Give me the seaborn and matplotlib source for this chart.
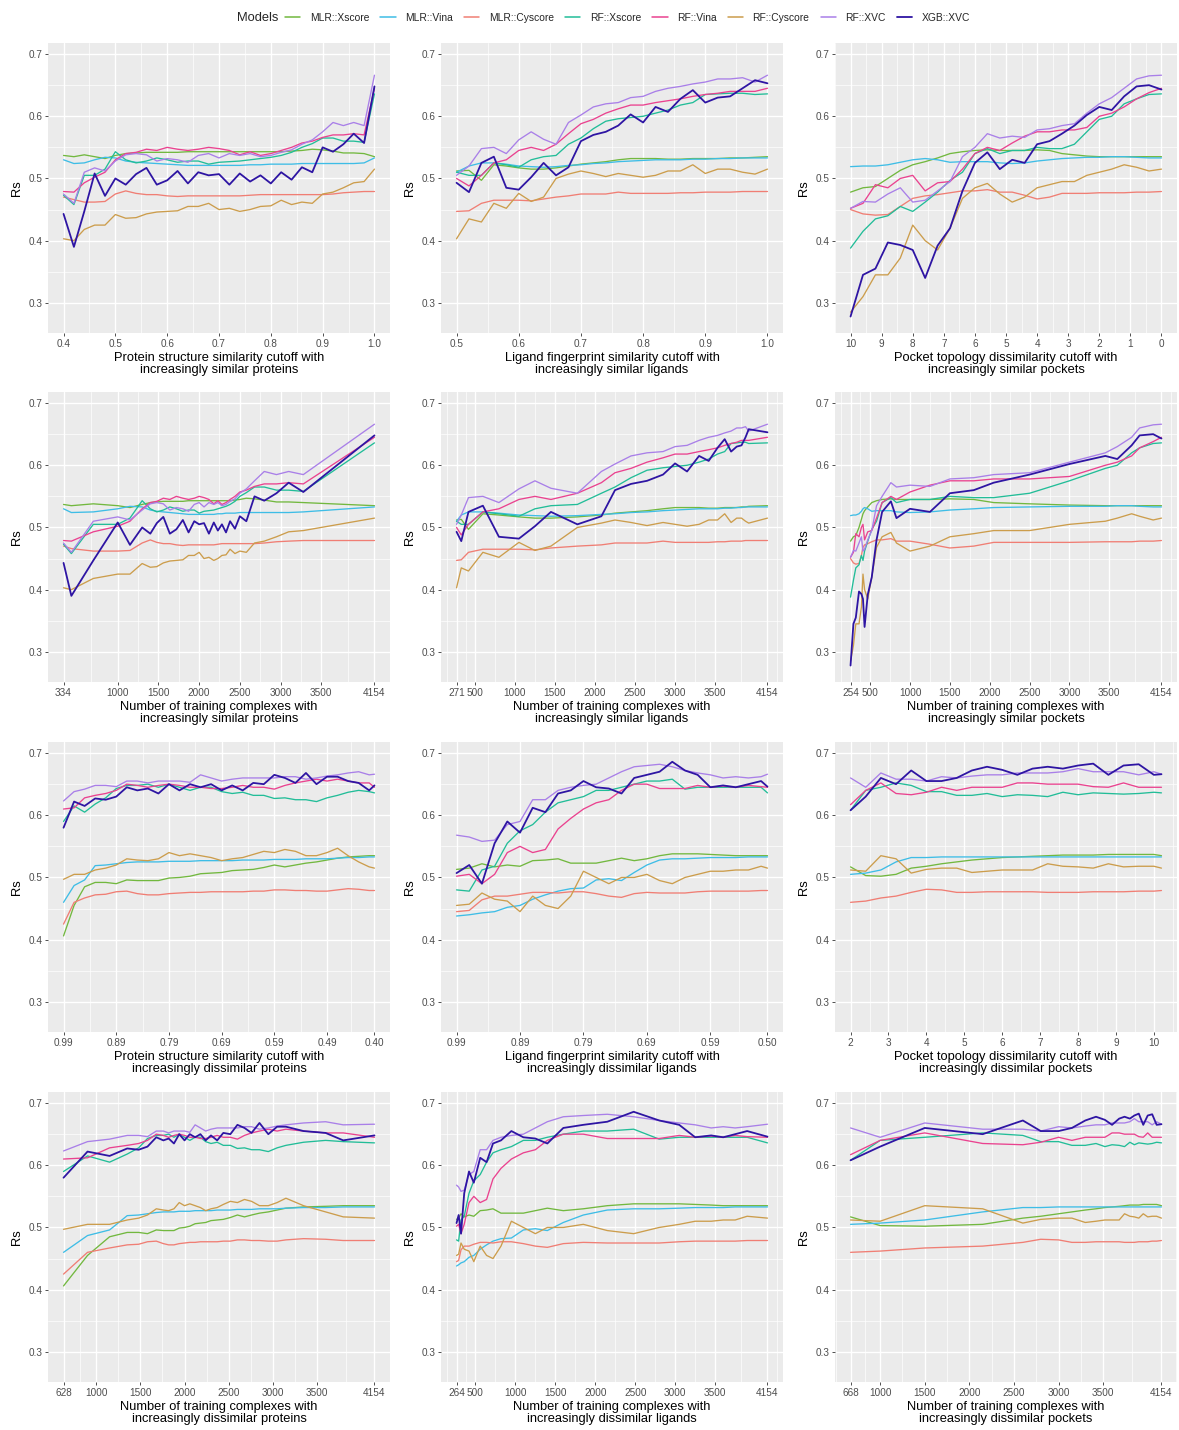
import numpy as np
import pandas as pd
import matplotlib
matplotlib.use("Agg")
import matplotlib.pyplot as plt
import seaborn as sns
from matplotlib.lines import Line2D

# ---------------- data ----------------
models = ["MLR::Xscore", "MLR::Vina", "MLR::Cyscore", "RF::Xscore",
          "RF::Vina", "RF::Cyscore", "RF::XVC", "XGB::XVC"]
colors = ["#72B83F", "#3EBDE6", "#F07E74", "#22BD98",
          "#EA428F", "#CC9D4C", "#A97FE8", "#2E15A3"]

# protein structure similarity cutoff, increasingly similar proteins
ps_cut = np.round(np.arange(0.40, 1.0001, 0.02), 2)
ps_n = [334, 430, 700, 1000, 1150, 1300, 1400, 1480, 1560, 1640, 1720, 1800, 1870, 1940, 2000, 2060,
        2120, 2180, 2230, 2280, 2330, 2380, 2440, 2500, 2580, 2680, 2800, 2950, 3100, 3280, 4154]
ps_mlr_xscore = [0.537, 0.535, 0.538, 0.535, 0.532, 0.537, 0.540, 0.541, 0.542, 0.542, 0.542, 0.542, 0.543, 0.543, 0.543, 0.543,
                 0.543, 0.543, 0.543, 0.543, 0.543, 0.543, 0.544, 0.545, 0.547, 0.546, 0.544, 0.541, 0.541, 0.540, 0.535]
ps_mlr_vina = [0.530, 0.524, 0.525, 0.530, 0.534, 0.533, 0.528, 0.526, 0.525, 0.524, 0.523, 0.522, 0.521, 0.521, 0.521, 0.521,
               0.521, 0.521, 0.522, 0.522, 0.523, 0.523, 0.523, 0.524, 0.524, 0.524, 0.524, 0.524, 0.524, 0.525, 0.533]
ps_mlr_cyscore = [0.470, 0.466, 0.462, 0.462, 0.463, 0.475, 0.480, 0.476, 0.474, 0.474, 0.472, 0.471, 0.472, 0.472, 0.472, 0.472,
                  0.472, 0.472, 0.473, 0.474, 0.474, 0.474, 0.474, 0.474, 0.474, 0.474, 0.475, 0.477, 0.478, 0.479, 0.479]
ps_rf_xscore = [0.473, 0.458, 0.505, 0.505, 0.515, 0.543, 0.530, 0.525, 0.528, 0.533, 0.530, 0.526, 0.528, 0.528, 0.523, 0.526,
                0.527, 0.528, 0.530, 0.532, 0.534, 0.537, 0.542, 0.550, 0.556, 0.565, 0.565, 0.560, 0.560, 0.558, 0.636]
ps_rf_vina = [0.479, 0.478, 0.493, 0.502, 0.510, 0.530, 0.540, 0.542, 0.547, 0.545, 0.550, 0.547, 0.545, 0.547, 0.550, 0.548,
              0.545, 0.538, 0.543, 0.537, 0.540, 0.545, 0.550, 0.557, 0.560, 0.566, 0.570, 0.570, 0.572, 0.570, 0.645]
ps_rf_cyscore = [0.403, 0.400, 0.418, 0.425, 0.425, 0.442, 0.436, 0.437, 0.443, 0.446, 0.447, 0.448, 0.455, 0.455, 0.460, 0.450,
                 0.452, 0.447, 0.450, 0.455, 0.456, 0.465, 0.458, 0.462, 0.460, 0.475, 0.478, 0.485, 0.493, 0.495, 0.515]
ps_rf_xvc = [0.475, 0.460, 0.510, 0.517, 0.512, 0.528, 0.538, 0.540, 0.538, 0.528, 0.532, 0.530, 0.526, 0.537, 0.540, 0.533,
             0.540, 0.537, 0.540, 0.535, 0.537, 0.542, 0.546, 0.555, 0.562, 0.575, 0.590, 0.585, 0.590, 0.585, 0.666]
ps_xgb_xvc = [0.443, 0.390, 0.447, 0.508, 0.472, 0.500, 0.490, 0.507, 0.517, 0.490, 0.497, 0.512, 0.492, 0.510, 0.505, 0.507,
              0.490, 0.508, 0.495, 0.505, 0.492, 0.510, 0.498, 0.518, 0.510, 0.550, 0.543, 0.555, 0.572, 0.557, 0.648]

# ligand fingerprint similarity cutoff, increasingly similar ligands
ls_cut = np.round(np.arange(0.50, 1.0001, 0.02), 2)
ls_n = [271, 330, 420, 600, 800, 1050, 1250, 1450, 1780, 2080, 2250, 2450, 2650, 2850, 3000, 3150,
        3300, 3420, 3530, 3620, 3700, 3770, 3830, 3880, 3920, 4154]
ls_mlr_xscore = [0.512, 0.513, 0.497, 0.522, 0.520, 0.517, 0.515, 0.515, 0.517, 0.520, 0.523, 0.525, 0.527,
                 0.530, 0.532, 0.532, 0.532, 0.531, 0.531, 0.532, 0.532, 0.532, 0.533, 0.533, 0.534, 0.535]
ls_mlr_vina = [0.510, 0.520, 0.525, 0.525, 0.523, 0.520, 0.519, 0.518, 0.519, 0.521, 0.522, 0.524, 0.525,
               0.527, 0.528, 0.529, 0.530, 0.530, 0.530, 0.531, 0.531, 0.532, 0.532, 0.533, 0.533, 0.533]
ls_mlr_cyscore = [0.447, 0.448, 0.460, 0.465, 0.465, 0.465, 0.464, 0.467, 0.470, 0.472, 0.475, 0.475, 0.475,
                  0.478, 0.476, 0.476, 0.476, 0.476, 0.477, 0.477, 0.478, 0.478, 0.478, 0.479, 0.479, 0.479]
ls_rf_xscore = [0.510, 0.505, 0.505, 0.525, 0.522, 0.518, 0.530, 0.535, 0.537, 0.555, 0.565, 0.580, 0.592,
                0.596, 0.598, 0.600, 0.605, 0.610, 0.618, 0.622, 0.635, 0.636, 0.637, 0.637, 0.635, 0.636]
ls_rf_vina = [0.500, 0.488, 0.505, 0.525, 0.530, 0.545, 0.550, 0.545, 0.555, 0.572, 0.588, 0.595, 0.605,
              0.612, 0.618, 0.618, 0.622, 0.625, 0.628, 0.632, 0.635, 0.637, 0.640, 0.640, 0.640, 0.645]
ls_rf_cyscore = [0.403, 0.435, 0.430, 0.460, 0.452, 0.476, 0.463, 0.470, 0.500, 0.507, 0.512, 0.508, 0.503,
                 0.508, 0.505, 0.502, 0.505, 0.512, 0.512, 0.522, 0.508, 0.515, 0.515, 0.510, 0.507, 0.515]
ls_rf_xvc = [0.505, 0.520, 0.548, 0.550, 0.540, 0.562, 0.575, 0.563, 0.555, 0.590, 0.602, 0.615, 0.620,
             0.622, 0.630, 0.632, 0.640, 0.645, 0.648, 0.652, 0.655, 0.660, 0.660, 0.662, 0.655, 0.666]
ls_xgb_xvc = [0.493, 0.478, 0.525, 0.535, 0.485, 0.482, 0.502, 0.525, 0.505, 0.518, 0.560, 0.570, 0.575,
              0.585, 0.603, 0.590, 0.615, 0.607, 0.628, 0.642, 0.622, 0.630, 0.632, 0.645, 0.658, 0.653]

# pocket topology dissimilarity cutoff, increasingly similar pockets
ks_cut = np.round(np.arange(10.0, -0.0001, -0.4), 1)
ks_n = [254, 290, 320, 360, 390, 410, 430, 470, 520, 580, 650, 760, 830, 1000, 1250, 1500,
        1800, 2050, 2500, 3000, 3450, 3600, 3780, 3880, 4050, 4154]
ks_mlr_xscore = [0.478, 0.485, 0.487, 0.500, 0.513, 0.522, 0.527, 0.533, 0.540, 0.543, 0.545, 0.546, 0.545,
                 0.545, 0.545, 0.546, 0.545, 0.540, 0.538, 0.536, 0.535, 0.535, 0.535, 0.535, 0.535, 0.535]
ks_mlr_vina = [0.519, 0.520, 0.520, 0.522, 0.526, 0.530, 0.532, 0.530, 0.526, 0.527, 0.527, 0.527, 0.525,
               0.524, 0.525, 0.528, 0.530, 0.532, 0.533, 0.534, 0.534, 0.535, 0.535, 0.534, 0.533, 0.533]
ks_mlr_cyscore = [0.450, 0.443, 0.441, 0.442, 0.455, 0.468, 0.472, 0.474, 0.477, 0.480, 0.480, 0.482, 0.478,
                  0.478, 0.473, 0.467, 0.470, 0.476, 0.476, 0.476, 0.477, 0.477, 0.477, 0.478, 0.478, 0.479]
ks_rf_xscore = [0.388, 0.415, 0.435, 0.440, 0.455, 0.447, 0.462, 0.478, 0.497, 0.510, 0.540, 0.548, 0.540,
                0.545, 0.545, 0.550, 0.548, 0.548, 0.555, 0.575, 0.595, 0.600, 0.620, 0.628, 0.635, 0.636]
ks_rf_vina = [0.452, 0.460, 0.490, 0.485, 0.500, 0.505, 0.480, 0.493, 0.495, 0.515, 0.540, 0.550, 0.545,
              0.557, 0.568, 0.575, 0.575, 0.578, 0.578, 0.582, 0.600, 0.605, 0.615, 0.628, 0.638, 0.645]
ks_rf_cyscore = [0.285, 0.310, 0.345, 0.345, 0.372, 0.425, 0.400, 0.385, 0.420, 0.468, 0.485, 0.492, 0.475,
                 0.462, 0.470, 0.485, 0.490, 0.495, 0.495, 0.505, 0.510, 0.515, 0.522, 0.518, 0.512, 0.515]
ks_rf_xvc = [0.452, 0.463, 0.462, 0.475, 0.485, 0.462, 0.465, 0.480, 0.495, 0.535, 0.550, 0.572, 0.565,
             0.568, 0.566, 0.578, 0.580, 0.585, 0.588, 0.605, 0.620, 0.630, 0.645, 0.660, 0.665, 0.666]
ks_xgb_xvc = [0.278, 0.345, 0.355, 0.397, 0.393, 0.385, 0.340, 0.392, 0.420, 0.480, 0.525, 0.542, 0.515,
              0.530, 0.525, 0.555, 0.560, 0.572, 0.585, 0.602, 0.615, 0.610, 0.632, 0.648, 0.650, 0.643]

# protein structure similarity cutoff, increasingly dissimilar proteins
pd_cut = np.append(np.round(np.arange(0.99, 0.405, -0.02), 2), 0.40)
pd_n = [628, 900, 1150, 1350, 1480, 1580, 1680, 1760, 1820, 1880, 1940, 2000, 2060, 2120, 2180, 2240,
        2300, 2370, 2440, 2520, 2600, 2680, 2760, 2850, 2950, 3050, 3150, 3350, 3600, 3800, 4154]
pd_mlr_xscore = [0.406, 0.455, 0.485, 0.492, 0.492, 0.490, 0.496, 0.495, 0.495, 0.495, 0.499, 0.500, 0.502, 0.506, 0.507, 0.508,
                 0.511, 0.512, 0.513, 0.516, 0.520, 0.517, 0.520, 0.523, 0.525, 0.528, 0.531, 0.533, 0.534, 0.535, 0.535]
pd_mlr_vina = [0.460, 0.487, 0.496, 0.519, 0.520, 0.522, 0.524, 0.525, 0.525, 0.525, 0.526, 0.526, 0.526, 0.527, 0.527, 0.527,
               0.527, 0.528, 0.528, 0.528, 0.529, 0.529, 0.529, 0.530, 0.530, 0.530, 0.531, 0.532, 0.532, 0.533, 0.533]
pd_mlr_cyscore = [0.425, 0.460, 0.467, 0.472, 0.473, 0.477, 0.478, 0.474, 0.472, 0.472, 0.474, 0.475, 0.476, 0.476, 0.477, 0.477,
                  0.477, 0.477, 0.478, 0.478, 0.480, 0.480, 0.479, 0.479, 0.478, 0.478, 0.480, 0.482, 0.481, 0.479, 0.479]
pd_rf_xscore = [0.590, 0.615, 0.605, 0.618, 0.628, 0.643, 0.648, 0.648, 0.650, 0.645, 0.650, 0.645, 0.640, 0.645, 0.645, 0.638,
                0.635, 0.637, 0.632, 0.632, 0.627, 0.628, 0.625, 0.625, 0.622, 0.628, 0.632, 0.637, 0.640, 0.638, 0.636]
pd_rf_vina = [0.610, 0.612, 0.628, 0.632, 0.635, 0.640, 0.650, 0.648, 0.645, 0.648, 0.650, 0.648, 0.645, 0.645, 0.643, 0.643,
              0.645, 0.648, 0.645, 0.645, 0.642, 0.648, 0.652, 0.655, 0.658, 0.655, 0.658, 0.655, 0.652, 0.652, 0.645]
pd_rf_cyscore = [0.497, 0.505, 0.505, 0.512, 0.515, 0.520, 0.530, 0.528, 0.527, 0.530, 0.540, 0.535, 0.538, 0.535, 0.532, 0.527,
                 0.530, 0.532, 0.537, 0.542, 0.540, 0.545, 0.542, 0.535, 0.535, 0.540, 0.547, 0.535, 0.525, 0.517, 0.515]
pd_rf_xvc = [0.623, 0.638, 0.642, 0.648, 0.648, 0.646, 0.655, 0.655, 0.652, 0.655, 0.655, 0.655, 0.653, 0.665, 0.660, 0.655,
             0.658, 0.660, 0.660, 0.660, 0.660, 0.662, 0.662, 0.658, 0.660, 0.663, 0.665, 0.668, 0.670, 0.665, 0.666]
pd_xgb_xvc = [0.580, 0.622, 0.615, 0.627, 0.625, 0.630, 0.645, 0.640, 0.643, 0.635, 0.650, 0.640, 0.650, 0.645, 0.650, 0.640,
              0.648, 0.640, 0.652, 0.650, 0.665, 0.660, 0.652, 0.668, 0.650, 0.662, 0.662, 0.655, 0.652, 0.640, 0.648]

# ligand fingerprint similarity cutoff, increasingly dissimilar ligands
ld_cut = np.append(np.round(np.arange(0.99, 0.505, -0.02), 2), 0.50)
ld_n = [264, 290, 320, 360, 420, 480, 560, 640, 720, 820, 950, 1100, 1250, 1400, 1600, 1850,
        2150, 2480, 2800, 3050, 3250, 3450, 3600, 3750, 3900, 4154]
ld_mlr_xscore = [0.513, 0.515, 0.522, 0.517, 0.520, 0.518, 0.527, 0.528, 0.530, 0.523, 0.523, 0.523, 0.527,
                 0.531, 0.527, 0.530, 0.535, 0.538, 0.538, 0.538, 0.537, 0.536, 0.535, 0.535, 0.535, 0.535]
ld_mlr_vina = [0.438, 0.440, 0.443, 0.445, 0.452, 0.455, 0.465, 0.472, 0.478, 0.482, 0.483, 0.496, 0.498,
               0.495, 0.508, 0.520, 0.528, 0.530, 0.530, 0.531, 0.532, 0.532, 0.532, 0.533, 0.533, 0.533]
ld_mlr_cyscore = [0.445, 0.447, 0.464, 0.470, 0.470, 0.473, 0.476, 0.476, 0.475, 0.477, 0.477, 0.474, 0.470,
                  0.468, 0.474, 0.476, 0.475, 0.475, 0.475, 0.477, 0.478, 0.478, 0.478, 0.478, 0.479, 0.479]
ld_rf_xscore = [0.480, 0.478, 0.512, 0.518, 0.555, 0.575, 0.585, 0.605, 0.620, 0.625, 0.630, 0.640, 0.640,
                0.645, 0.650, 0.655, 0.655, 0.658, 0.642, 0.645, 0.645, 0.645, 0.645, 0.645, 0.645, 0.636]
ld_rf_vina = [0.502, 0.505, 0.490, 0.505, 0.540, 0.550, 0.540, 0.545, 0.578, 0.595, 0.610, 0.620, 0.625,
              0.640, 0.650, 0.650, 0.643, 0.643, 0.643, 0.648, 0.645, 0.647, 0.645, 0.648, 0.646, 0.645]
ld_rf_cyscore = [0.455, 0.457, 0.475, 0.465, 0.462, 0.445, 0.470, 0.455, 0.450, 0.470, 0.510, 0.500, 0.490,
                 0.500, 0.500, 0.505, 0.495, 0.490, 0.500, 0.505, 0.510, 0.510, 0.512, 0.512, 0.518, 0.515]
ld_rf_xvc = [0.568, 0.565, 0.558, 0.560, 0.585, 0.590, 0.625, 0.625, 0.640, 0.645, 0.648, 0.650, 0.660,
             0.670, 0.678, 0.680, 0.682, 0.678, 0.672, 0.668, 0.665, 0.660, 0.662, 0.660, 0.662, 0.666]
ld_xgb_xvc = [0.507, 0.520, 0.490, 0.555, 0.590, 0.572, 0.612, 0.605, 0.635, 0.640, 0.655, 0.645, 0.643,
              0.635, 0.660, 0.665, 0.670, 0.686, 0.672, 0.665, 0.645, 0.648, 0.645, 0.650, 0.655, 0.646]

# pocket topology dissimilarity cutoff, increasingly dissimilar pockets
kd_cut = np.append(np.round(np.arange(2.0, 10.0001, 0.4), 1), 10.2)
kd_n = [668, 1000, 1500, 2150, 2600, 2800, 3000, 3150, 3300, 3420, 3520, 3600, 3680, 3740, 3800, 3850,
        3900, 3950, 4000, 4050, 4100, 4154]
kd_mlr_xscore = [0.517, 0.503, 0.502, 0.505, 0.515, 0.518, 0.522, 0.525, 0.528, 0.530, 0.532,
                 0.533, 0.534, 0.535, 0.536, 0.536, 0.536, 0.537, 0.537, 0.537, 0.537, 0.535]
kd_mlr_vina = [0.505, 0.507, 0.512, 0.525, 0.532, 0.532, 0.533, 0.533, 0.533, 0.533, 0.533,
               0.533, 0.533, 0.533, 0.533, 0.533, 0.533, 0.533, 0.533, 0.533, 0.533, 0.533]
kd_mlr_cyscore = [0.460, 0.462, 0.467, 0.470, 0.476, 0.481, 0.480, 0.476, 0.476, 0.477, 0.477,
                  0.477, 0.477, 0.476, 0.476, 0.476, 0.477, 0.477, 0.477, 0.478, 0.478, 0.479]
kd_rf_xscore = [0.608, 0.640, 0.645, 0.652, 0.648, 0.638, 0.638, 0.632, 0.632, 0.635, 0.630,
                0.633, 0.632, 0.630, 0.637, 0.633, 0.636, 0.635, 0.634, 0.635, 0.637, 0.636]
kd_rf_vina = [0.617, 0.640, 0.652, 0.635, 0.633, 0.637, 0.645, 0.640, 0.645, 0.645, 0.645,
              0.652, 0.652, 0.650, 0.650, 0.650, 0.646, 0.645, 0.652, 0.645, 0.645, 0.645]
kd_rf_cyscore = [0.512, 0.510, 0.535, 0.530, 0.507, 0.513, 0.515, 0.515, 0.508, 0.510, 0.512,
                 0.512, 0.512, 0.522, 0.518, 0.517, 0.515, 0.522, 0.517, 0.518, 0.518, 0.515]
kd_rf_xvc = [0.660, 0.645, 0.668, 0.658, 0.658, 0.655, 0.662, 0.660, 0.663, 0.665, 0.665,
             0.668, 0.668, 0.668, 0.670, 0.675, 0.670, 0.670, 0.670, 0.665, 0.670, 0.666]
kd_xgb_xvc = [0.608, 0.630, 0.660, 0.650, 0.672, 0.655, 0.655, 0.660, 0.672, 0.678, 0.673,
              0.665, 0.675, 0.678, 0.675, 0.680, 0.683, 0.665, 0.680, 0.682, 0.665, 0.666]

ps_series = [ps_mlr_xscore, ps_mlr_vina, ps_mlr_cyscore, ps_rf_xscore, ps_rf_vina, ps_rf_cyscore, ps_rf_xvc, ps_xgb_xvc]
ls_series = [ls_mlr_xscore, ls_mlr_vina, ls_mlr_cyscore, ls_rf_xscore, ls_rf_vina, ls_rf_cyscore, ls_rf_xvc, ls_xgb_xvc]
ks_series = [ks_mlr_xscore, ks_mlr_vina, ks_mlr_cyscore, ks_rf_xscore, ks_rf_vina, ks_rf_cyscore, ks_rf_xvc, ks_xgb_xvc]
pd_series = [pd_mlr_xscore, pd_mlr_vina, pd_mlr_cyscore, pd_rf_xscore, pd_rf_vina, pd_rf_cyscore, pd_rf_xvc, pd_xgb_xvc]
ld_series = [ld_mlr_xscore, ld_mlr_vina, ld_mlr_cyscore, ld_rf_xscore, ld_rf_vina, ld_rf_cyscore, ld_rf_xvc, ld_xgb_xvc]
kd_series = [kd_mlr_xscore, kd_mlr_vina, kd_mlr_cyscore, kd_rf_xscore, kd_rf_vina, kd_rf_cyscore, kd_rf_xvc, kd_xgb_xvc]

# ---------------- style ----------------
sns.set_theme(style="darkgrid")
plt.rcParams["font.family"] = ["Liberation Sans", "DejaVu Sans"]

W, H = 1179, 1430
fig = plt.figure(figsize=(W / 100, H / 100), dpi=100, facecolor="white")

col_left = [48, 441, 835]
row_top = [43, 392, 742, 1092]
AW, AH = 342, 290
YLIM = (0.2515, 0.7178)
palette = dict(zip(models, colors))


def minor_breaks(majors, lo, hi):
    b = sorted(majors)
    bd = b[1] - b[0]
    ext = list(b)
    if lo < b[0]:
        ext = [b[0] - bd] + ext
    if hi > b[-1]:
        ext = ext + [b[-1] + bd]
    mids = [(ext[i] + ext[i + 1]) / 2 for i in range(len(ext) - 1)]
    return [m for m in mids if lo <= m <= hi]


def panel(r, c, x, series, xlabel, ticks, ticklabels, reverse=False):
    ax = fig.add_axes([col_left[c] / W, 1 - (row_top[r] + AH) / H, AW / W, AH / H])
    n = len(x)
    df = pd.DataFrame({
        "x": np.tile(np.asarray(x, dtype=float), len(models)),
        "Rs": np.concatenate([np.asarray(s, dtype=float) for s in series]),
        "Model": np.repeat(models, n),
    })
    sns.lineplot(data=df, x="x", y="Rs", hue="Model", hue_order=models, palette=palette,
                 estimator=None, errorbar=None, legend=False, ax=ax, linewidth=0.95)
    for ln in ax.lines:
        ln.set_solid_joinstyle("round")
    ax.lines[-1].set_linewidth(1.3)
    xmin, xmax = float(np.min(x)), float(np.max(x))
    pad = 0.05 * (xmax - xmin)
    lo, hi = xmin - pad, xmax + pad
    if reverse:
        ax.set_xlim(hi, lo)
    else:
        ax.set_xlim(lo, hi)
    ax.set_ylim(*YLIM)
    ax.set_facecolor("#EBEBEB")
    for sp in ax.spines.values():
        sp.set_visible(False)
    ax.set_xticks(ticks)
    ax.set_xticklabels(ticklabels)
    ax.set_xticks(minor_breaks(ticks, lo, hi), minor=True)
    yt = [0.3, 0.4, 0.5, 0.6, 0.7]
    ax.set_yticks(yt)
    ax.set_yticklabels(["0.3", "0.4", "0.5", "0.6", "0.7"])
    ax.set_yticks(minor_breaks(yt, *YLIM), minor=True)
    ax.grid(which="major", color="white", linewidth=1.0)
    ax.grid(which="minor", color="white", linewidth=0.5)
    ax.set_axisbelow(True)
    ax.tick_params(which="major", length=2.5, width=0.6, color="#333333",
                   labelsize=7.2, labelcolor="#4D4D4D", pad=1.5,
                   bottom=True, left=True)
    ax.tick_params(which="minor", length=0)
    ax.set_xlabel(xlabel, fontsize=9.3, color="black", linespacing=1.05, labelpad=2.5)
    ax.set_ylabel("Rs", fontsize=9.3, color="black", labelpad=4)
    return ax


cnt_ticks = [1000, 1500, 2000, 2500, 3000, 3500, 4154]

panel(0, 0, ps_cut, ps_series,
      "Protein structure similarity cutoff with\nincreasingly similar proteins",
      [0.4, 0.5, 0.6, 0.7, 0.8, 0.9, 1.0], ["0.4", "0.5", "0.6", "0.7", "0.8", "0.9", "1.0"])
panel(0, 1, ls_cut, ls_series,
      "Ligand fingerprint similarity cutoff with\nincreasingly similar ligands",
      [0.5, 0.6, 0.7, 0.8, 0.9, 1.0], ["0.5", "0.6", "0.7", "0.8", "0.9", "1.0"])
panel(0, 2, ks_cut, ks_series,
      "Pocket topology dissimilarity cutoff with\nincreasingly similar pockets",
      list(range(0, 11)), [str(v) for v in range(0, 11)], reverse=True)

t = [334] + cnt_ticks
panel(1, 0, ps_n, ps_series,
      "Number of training complexes with\nincreasingly similar proteins", t, [str(v) for v in t])
t = [271, 500] + cnt_ticks
panel(1, 1, ls_n, ls_series,
      "Number of training complexes with\nincreasingly similar ligands", t, [str(v) for v in t])
t = [254, 500] + cnt_ticks
panel(1, 2, ks_n, ks_series,
      "Number of training complexes with\nincreasingly similar pockets", t, [str(v) for v in t])

t = [0.99, 0.89, 0.79, 0.69, 0.59, 0.49, 0.40]
panel(2, 0, pd_cut, pd_series,
      "Protein structure similarity cutoff with\nincreasingly dissimilar proteins",
      t, ["%.2f" % v for v in t], reverse=True)
t = [0.99, 0.89, 0.79, 0.69, 0.59, 0.50]
panel(2, 1, ld_cut, ld_series,
      "Ligand fingerprint similarity cutoff with\nincreasingly dissimilar ligands",
      t, ["%.2f" % v for v in t], reverse=True)
t = list(range(2, 11))
panel(2, 2, kd_cut, kd_series,
      "Pocket topology dissimilarity cutoff with\nincreasingly dissimilar pockets",
      t, [str(v) for v in t])

t = [628] + cnt_ticks
panel(3, 0, pd_n, pd_series,
      "Number of training complexes with\nincreasingly dissimilar proteins", t, [str(v) for v in t])
t = [264, 500] + cnt_ticks
panel(3, 1, ld_n, ld_series,
      "Number of training complexes with\nincreasingly dissimilar ligands", t, [str(v) for v in t])
t = [668] + cnt_ticks
panel(3, 2, kd_n, kd_series,
      "Number of training complexes with\nincreasingly dissimilar pockets", t, [str(v) for v in t])

# legend
handles = [Line2D([], [], color=c, linewidth=1.3 if m == "XGB::XVC" else 1.1) for m, c in zip(models, colors)]
fig.text(237 / W, 1 - 18 / H, "Models", fontsize=9.3, ha="left", va="center")
fig.legend(handles, models, loc="center left", bbox_to_anchor=(285 / W, 1 - 18 / H),
           ncol=8, frameon=False, fontsize=7.4, handlelength=1.5, handletextpad=0.9,
           columnspacing=1.1, borderpad=0, borderaxespad=0)

fig.savefig("out.png", dpi=100, facecolor="white")
